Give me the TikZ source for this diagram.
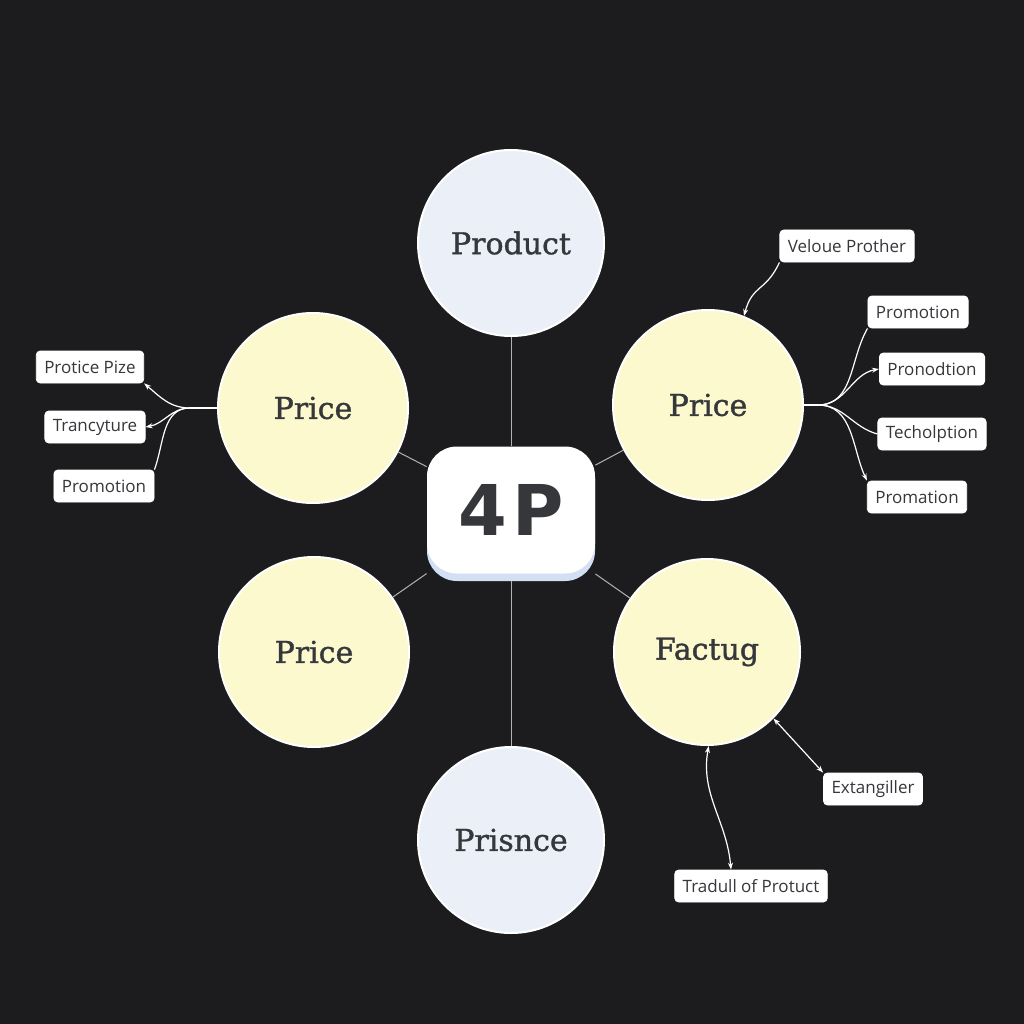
\documentclass[tikz,border=0pt]{standalone}
\usepackage{fontspec}
\usepackage{xcolor}
\usetikzlibrary{arrows.meta}
\setmainfont{Open Sans}
\newfontfamily\circfont[FakeBold=1.2]{DejaVu Serif}
\newfontfamily\corefont{DejaVu Sans}
\definecolor{bgdark}{HTML}{1C1C1E}
\definecolor{paleyellow}{HTML}{FBF9CD}
\definecolor{paleblue}{HTML}{EBF0F8}
\definecolor{shadeblue}{HTML}{D3DFF2}
\definecolor{inkgray}{HTML}{35373B}

\begin{document}
\begin{tikzpicture}[x=1pt, y=-1pt, thick,
    main/.style = {draw=white, line width=2pt, circle, minimum size=190pt, inner sep=0pt,
                   font=\circfont\fontsize{30}{32}\selectfont, text=inkgray},
    yel/.style = {main, fill=paleyellow},
    blu/.style = {main, fill=paleblue, minimum size=186pt},
    tag/.style = {draw=white, fill=white, rounded corners=4pt, minimum height=32pt,
                  inner xsep=8pt, font=\fontsize{17}{19}\selectfont, text=inkgray},
    link/.style = {draw=white!70!black, line width=1pt},
    wire/.style = {draw=white, line width=1.2pt},
    tip/.style = {-{Stealth[length=7pt,width=5pt]}},
    both/.style = {{Stealth[length=7pt,width=5pt]}-{Stealth[length=7pt,width=5pt]}}]
    \fill[bgdark] (0,0) rectangle (1024,1024);
    % circles
    \node[blu] (prod) at (511,243) {Product};
    \node[yel] (pricel) at (313,408) {Price};
    \node[yel] (pricer) at (708,405) {Price};
    \node[yel] (pricebl) at (314,652) {Price};
    \node[yel, minimum size=186pt] (fact) at (707,652) {Factug};
    \node[blu] (pris) at (511,840) {Prisnce};
    % centre
    \node[fill=shadeblue, rounded corners=30pt, minimum width=168pt, minimum height=132pt]
        (coreshade) at (511,515) {};
    \node[fill=white, rounded corners=30pt, minimum width=168pt, minimum height=127pt,
          font=\corefont\bfseries\fontsize{70}{72}\selectfont, text=inkgray] (core) at (511,510) {4\kern5pt P};
    \draw[link] (prod) -- (core);
    \draw[link] (pris) -- (coreshade);
    \draw[link] (pricel) -- (core);
    \draw[link] (pricer) -- (core);
    \draw[link] (pricebl) -- (coreshade);
    \draw[link] (fact) -- (coreshade);
    % left labels
    \node[tag] (lt1) at (90,367) {Protice Pize};
    \node[tag] (lt2) at (95,427) {Trancyture};
    \node[tag] (lt3) at (104,486) {Promotion};
    \coordinate (lhub) at (190,408);
    \draw[wire] (pricel.west) -- (lhub);
    \draw[wire, tip] (lhub) to[out=180, in=-40] (lt1.south east);
    \draw[wire, tip] (lhub) to[out=180, in=10] (lt2.east);
    \draw[wire] (lhub) to[out=180, in=70] (lt3.north east);
    % right labels
    \node[tag] (rt1) at (847,246) {Veloue Prother};
    \node[tag] (rt2) at (918,312) {Promotion};
    \node[tag] (rt3) at (932,369) {Pronodtion};
    \node[tag] (rt4) at (932,434) {Techolption};
    \node[tag] (rt5) at (917,497) {Promation};
    \coordinate (rhub) at (818,405);
    \draw[wire] (pricer.east) -- (rhub);
    \draw[wire] (rhub) to[out=0, in=-120] (rt2.south west);
    \draw[wire, tip] (rhub) to[out=0, in=190] (rt3.west);
    \draw[wire] (rhub) to[out=0, in=165] (rt4.west);
    \draw[wire, tip] (rhub) to[out=0, in=115] (rt5.north west);
    \draw[wire, tip] (rt1.south west) to[out=-115, in=75, looseness=1.3] (pricer.68);
    % bottom right labels
    \node[tag] (ext) at (873,789) {Extangiller};
    \node[tag] (trad) at (751,886) {Tradull of Protuct};
    \draw[wire, both] (fact.-45) -- (ext.north west);
    \draw[wire, both] (fact.-89) to[out=-100, in=95] ([xshift=-20pt]trad.north);
\end{tikzpicture}
\end{document}
